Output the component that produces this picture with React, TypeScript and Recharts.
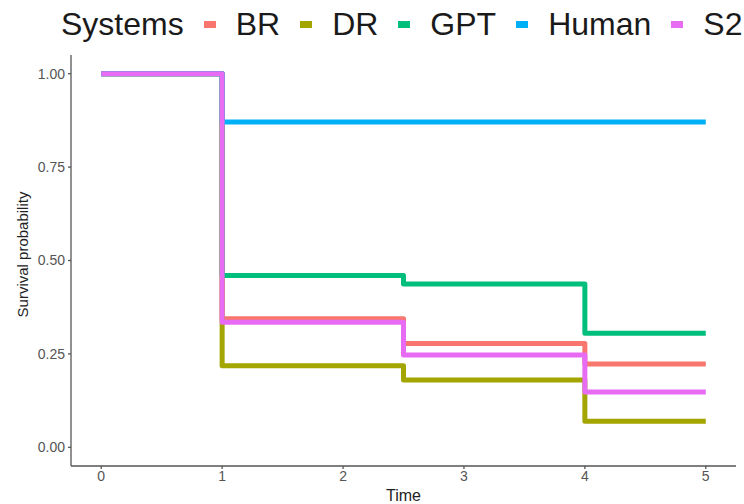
import React from 'react';
import { LineChart, Line, XAxis, YAxis, Label } from 'recharts';

// Kaplan-Meier style survival steps
const times = [0, 1, 2.5, 4, 5];
const brValues = [1, 0.344, 0.278, 0.223, 0.223];
const drValues = [1, 0.218, 0.18, 0.07, 0.07];
const gptValues = [1, 0.46, 0.437, 0.305, 0.305];
const humanValues = [1, 0.871, 0.871, 0.871, 0.871];
const s2Values = [1, 0.335, 0.247, 0.148, 0.148];

const xTicks = [0, 1, 2, 3, 4, 5];
const yTicks = [0, 0.25, 0.5, 0.75, 1];

const series = [
  { name: 'BR', color: '#F8766D', values: brValues },
  { name: 'DR', color: '#A3A500', values: drValues },
  { name: 'GPT', color: '#00BF7D', values: gptValues },
  { name: 'Human', color: '#00B0F6', values: humanValues },
  { name: 'S2', color: '#E76BF3', values: s2Values },
];

const toPoints = (values: number[]) => times.map((t, i) => ({ time: t, surv: values[i] }));

const FONT = '"Liberation Sans", Arial, Helvetica, sans-serif';
const AXIS_COLOR = '#555';

const LegendRow = () => (
  <div
    style={{
      position: 'absolute',
      top: 8,
      left: 61,
      display: 'flex',
      alignItems: 'center',
      fontFamily: FONT,
      fontSize: 32,
      lineHeight: 1,
      color: '#1a1a1a',
      whiteSpace: 'nowrap',
    }}
  >
    <span>Systems</span>
    {series.map((s) => (
      <React.Fragment key={s.name}>
        <span
          style={{
            display: 'inline-block',
            width: 12,
            height: 7,
            background: s.color,
            margin: '0 20px 0 20px',
          }}
        />
        <span>{s.name}</span>
      </React.Fragment>
    ))}
  </div>
);

export default function App() {
  return (
    <div style={{ position: 'absolute', left: 0, top: 0, width: 744, height: 504, background: '#fff', overflow: 'hidden' }}>
      <LineChart width={744} height={504} margin={{ top: 55, right: 8, bottom: 0, left: 0 }}>
        <XAxis
          type="number"
          dataKey="time"
          domain={[-0.25, 5.25]}
          ticks={xTicks}
          allowDataOverflow
          height={38}
          stroke={AXIS_COLOR}
          strokeWidth={1.3}
          tickSize={3}
          tickMargin={2}
          tick={{ fill: '#555', fontSize: 14, fontFamily: FONT }}
        >
          <Label value="Time" position="insideBottom" offset={3} fill="#222" fontSize={16} fontFamily={FONT} />
        </XAxis>
        <YAxis
          type="number"
          domain={[-0.05, 1.05]}
          ticks={yTicks}
          allowDataOverflow
          width={71}
          stroke={AXIS_COLOR}
          strokeWidth={1.3}
          tickSize={3}
          tickMargin={3}
          tickFormatter={(v: number) => v.toFixed(2)}
          tick={{ fill: '#555', fontSize: 14, fontFamily: FONT }}
        >
          <Label
            content={(props: any) => {
              const vb = props.viewBox || {};
              const cy = vb.y + vb.height / 2 - 6;
              return (
                <text
                  x={22}
                  y={cy}
                  transform={`rotate(-90, 22, ${cy})`}
                  textAnchor="middle"
                  dominantBaseline="central"
                  fill="#222"
                  fontSize={15}
                  fontFamily={FONT}
                >
                  Survival probability
                </text>
              );
            }}
          />
        </YAxis>
        {series.map((s) => (
          <Line
            key={s.name}
            data={toPoints(s.values)}
            dataKey="surv"
            name={s.name}
            type="stepAfter"
            stroke={s.color}
            strokeWidth={5}
            strokeLinejoin="round"
            dot={false}
            activeDot={false}
            isAnimationActive={false}
          />
        ))}
      </LineChart>
      <LegendRow />
    </div>
  );
}
